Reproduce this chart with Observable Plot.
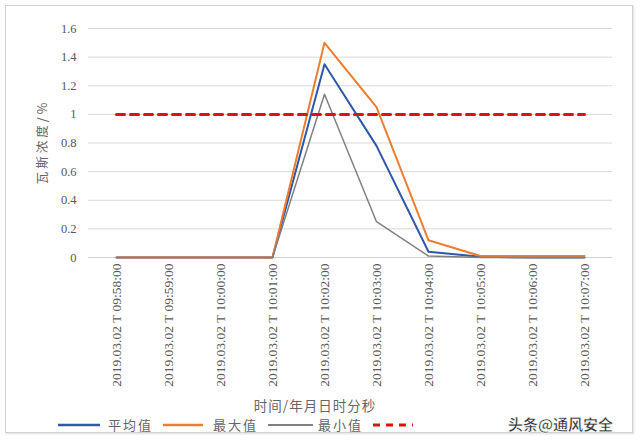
<!DOCTYPE html>
<html><head><meta charset="utf-8">
<script src="https://cdn.jsdelivr.net/npm/d3@7"></script>
<script src="https://cdn.jsdelivr.net/npm/@observablehq/plot@0.6"></script>
<style>
body{margin:0;background:#fff;width:640px;height:443px;overflow:hidden;position:relative;font-family:"Liberation Serif","Noto Sans CJK SC",serif;}
#frame{position:absolute;left:5px;top:5px;width:626px;height:426px;border:1px solid #d0d0d0;box-shadow:1px 1px 2px #ddd;}
#chart{position:absolute;left:0;top:0;}
#legend{position:absolute;left:0;top:415px;width:640px;height:20px;font-size:13px;color:#666;font-family:"Noto Sans CJK SC",sans-serif;letter-spacing:2px;}
#legend span{position:absolute;top:0;line-height:20px;}
#legend svg{position:absolute;top:0;}
.title{position:absolute;font-family:"Noto Sans CJK SC",sans-serif;color:#666;white-space:nowrap;line-height:16px;}
#ytitle{left:42px;top:142px;font-size:12.5px;letter-spacing:3px;transform:translate(-50%,-50%) rotate(-90deg);}
#xtitle{left:315px;top:405px;font-size:13.5px;letter-spacing:1px;transform:translate(-50%,-50%);}
#wm{position:absolute;left:508px;top:413px;font-size:15px;color:#333;font-family:"Noto Sans CJK SC",sans-serif;font-weight:bold;-webkit-text-stroke:0.4px #fff;}
</style></head>
<body>
<div id="frame"></div>
<div id="chart"></div>
<div id="ytitle" class="title"></div>
<div id="xtitle" class="title"></div>
<div id="legend"></div>
<div id="wm">头条@通风安全</div>
<script>
const times = ["2019.03.02 T 09:58:00","2019.03.02 T 09:59:00","2019.03.02 T 10:00:00","2019.03.02 T 10:01:00","2019.03.02 T 10:02:00","2019.03.02 T 10:03:00","2019.03.02 T 10:04:00","2019.03.02 T 10:05:00","2019.03.02 T 10:06:00","2019.03.02 T 10:07:00"];
const avgValues = [0, 0, 0, 0, 1.35, 0.78, 0.04, 0.005, 0, 0];
const maxValues = [0, 0, 0, 0, 1.50, 1.05, 0.12, 0.01, 0.01, 0.01];
const minValues = [0, 0, 0, 0, 1.14, 0.25, 0.01, 0, 0, 0];
const limitValues = [1, 1, 1, 1, 1, 1, 1, 1, 1, 1];
const seriesNames = ["平均值", "最大值", "最小值", ""];
const yTicks = [0, 0.2, 0.4, 0.6, 0.8, 1, 1.2, 1.4, 1.6];
const yLabel = "瓦斯浓度/%";
const xLabel = "时间/年月日时分秒";
const colors = ["#2f58a8", "#ed7d31", "#808080", "#e01010"];

const rows = (vals) => times.map((t, i) => ({t, v: vals[i]}));

const chart = Plot.plot({
  width: 640, height: 412,
  marginLeft: 88, marginRight: 28, marginTop: 28, marginBottom: 155,
  style: {fontFamily: "'Liberation Serif', serif", fontSize: "12px", color: "#595959", background: "transparent"},
  x: {type: "point", domain: times, padding: 0.5},
  y: {domain: [0, 1.6]},
  marks: [
    Plot.gridY(yTicks, {stroke: "#d9d9d9", strokeOpacity: 1, strokeWidth: 1}),
    Plot.axisY({ticks: yTicks, tickSize: 0, tickPadding: 12, label: null, tickFormat: d => String(d), fontSize: 12.5}),
    Plot.axisX({tickSize: 0, tickPadding: 6, tickRotate: -90, label: null, fontSize: 13.5}),
    Plot.ruleY([0], {stroke: "#d0d0d0"}),
    Plot.line(rows(avgValues), {x: "t", y: "v", stroke: colors[0], strokeWidth: 2}),
    Plot.line(rows(maxValues), {x: "t", y: "v", stroke: colors[1], strokeWidth: 2}),
    Plot.line(rows(minValues), {x: "t", y: "v", stroke: colors[2], strokeWidth: 1.5}),
    Plot.line(rows(limitValues), {x: "t", y: "v", stroke: colors[3], strokeWidth: 3, strokeDasharray: "8,6"})
  ]
});
document.getElementById("chart").append(chart);
document.getElementById("ytitle").textContent = yLabel;
document.getElementById("xtitle").textContent = xLabel;

const legend = document.getElementById("legend");
const entries = [
  {x: 58, w: 42, tx: 108, dash: null, sw: 2.5},
  {x: 163, w: 40, tx: 213, dash: null, sw: 2.5},
  {x: 268, w: 45, tx: 318, dash: null, sw: 2},
  {x: 373, w: 40, tx: 420, dash: "7,6", sw: 3}
];
entries.forEach((e, i) => {
  const ns = "http://www.w3.org/2000/svg";
  const s = document.createElementNS(ns, "svg");
  s.setAttribute("width", e.w); s.setAttribute("height", 20);
  s.style.left = e.x + "px";
  const l = document.createElementNS(ns, "line");
  l.setAttribute("x1", 0); l.setAttribute("x2", e.w); l.setAttribute("y1", 10); l.setAttribute("y2", 10);
  l.setAttribute("stroke", colors[i]); l.setAttribute("stroke-width", e.sw);
  if (e.dash) l.setAttribute("stroke-dasharray", e.dash);
  s.append(l); legend.append(s);
  if (seriesNames[i]) {
    const t = document.createElement("span");
    t.textContent = seriesNames[i]; t.style.left = e.tx + "px";
    legend.append(t);
  }
});
</script>
</body></html>
